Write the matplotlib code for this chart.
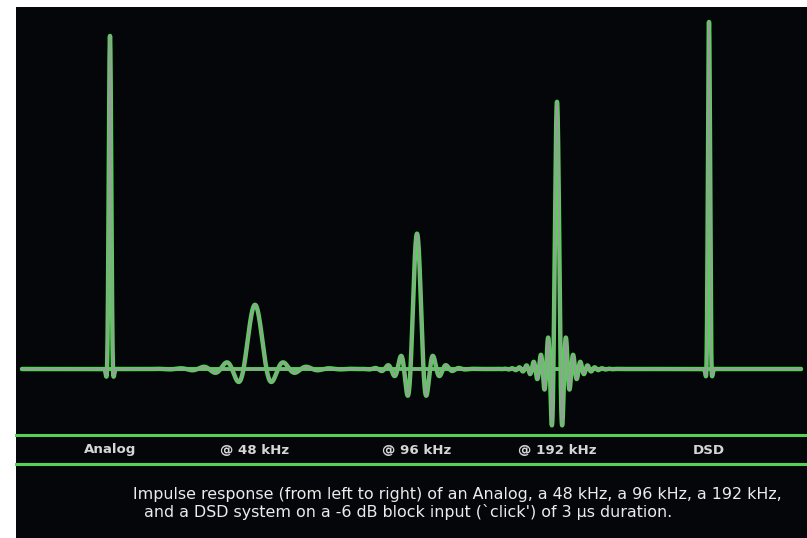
import matplotlib
matplotlib.use("Agg")
import matplotlib.pyplot as plt
import numpy as np

# five systems, left to right
systems = ["Analog", "@ 48 kHz", "@ 96 kHz", "@ 192 kHz", "DSD"]
centers = [110, 255, 417, 557, 709]          # horizontal position of each response
peaks = [0.96, 0.185, 0.39, 0.77, 1.0]       # peak amplitude, relative to DSD
lobe = [3.0, 11.5, 6.5, 3.6, 2.6]            # sinc zero spacing
ring = [2.6, 60.0, 30.0, 30.0, 2.2]          # ringing decay length

caption = ["Impulse response (from left to right) of an Analog, a 48 kHz, a 96 kHz, a 192 kHz,",
           "and a DSD system on a -6 dB block input (`click') of 3 \u00b5s duration."]

GREEN = "#55d255"
GREY = "#a096a6"
BG = "#05060a"

W, H = 807, 538
fig = plt.figure(figsize=(W / 100, H / 100), dpi=100, facecolor="white")

# black panel with the traces
ax = fig.add_axes([16 / W, 0, (W - 16) / W, (H - 7) / H])
ax.set_facecolor(BG)
ax.set_xlim(16, W)
scale = 347.0  # pixels per unit amplitude
ax.set_ylim(-(H - 369) / scale, (369 - 7) / scale)
ax.set_axis_off()
ax.add_patch(plt.Rectangle((0, 0), 1, 1, transform=ax.transAxes, color=BG, zorder=0))

x = np.linspace(22, 801, 12000)
y = np.zeros_like(x)
for c, a, T, L in zip(centers, peaks, lobe, ring):
    t = x - c
    y += a * np.sinc(t / T) * np.exp(-(t / L) ** 2)

# zero line, then the green trace with a grey core
ax.plot([x[0], x[-1]], [0, 0], color=GREEN, lw=2.8, solid_capstyle="round", zorder=1)
ax.plot([x[0], x[-1]], [0, 0], color=GREY, lw=1.0, solid_capstyle="round", zorder=1)
ax.plot(x, y, color=GREEN, lw=3.2, solid_capstyle="round", zorder=2)
ax.plot(x, y, color=GREY, lw=1.1, solid_capstyle="round", zorder=3)

# label strip
for yy in (435, 464):
    fig.add_artist(plt.Line2D([16 / W, 1], [1 - yy / H] * 2, color=GREEN, lw=2.2))
for name, c in zip(systems, centers):
    fig.text(c / W, 1 - 450 / H, name, color="#d6d6d6", fontsize=9.6,
             fontweight="bold", ha="center", va="center")

fig.text(133 / W, 1 - 494 / H, caption[0], color="#ececec", fontsize=11.4,
         ha="left", va="center")
fig.text(144 / W, 1 - 512 / H, caption[1], color="#ececec", fontsize=11.4,
         ha="left", va="center")

fig.savefig("out.png", dpi=100, facecolor=fig.get_facecolor())
